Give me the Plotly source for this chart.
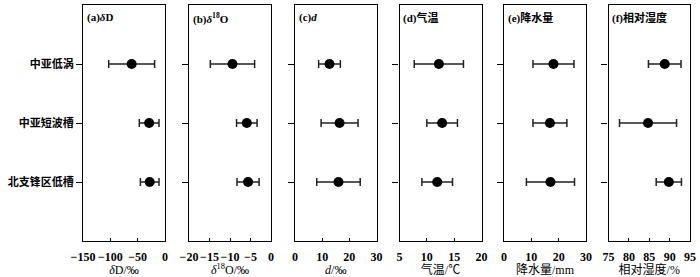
import plotly.graph_objects as go

categories = ["中亚低涡", "中亚短波槽", "北支锋区低槽"]

dD_mean = [-61, -29, -28]
dD_err = [42, 18, 17]
d18O_mean = [-9.4, -5.9, -5.6]
d18O_err = [5.4, 2.5, 2.7]
d_mean = [12.7, 16.4, 16.0]
d_err = [4.0, 6.8, 8.0]
temp_mean = [12.2, 12.8, 11.9]
temp_err = [4.5, 2.8, 2.8]
precip_mean = [18.1, 16.8, 17.0]
precip_err = [7.5, 6.2, 8.8]
rh_mean = [88.8, 84.7, 89.8]
rh_err = [4.0, 7.0, 3.1]

panel_titles = ["(a)<i>δ</i>D", "(b)<i>δ</i><sup>18</sup>O", "(c)<i>d</i>",
                "(d)气温", "(e)降水量", "(f)相对湿度"]
axis_titles = ["<i>δ</i>D/‰", "<i>δ</i><sup>18</sup>O/‰", "<i>d</i>/‰",
               "气温/℃", "降水量/mm", "相对湿度/%"]
x_ranges = [[-150, 0], [-20, 0], [0, 30], [5, 20], [0, 30], [75, 95]]
x_dticks = [50, 5, 10, 5, 10, 5]

means = [dD_mean, d18O_mean, d_mean, temp_mean, precip_mean, rh_mean]
errs = [dD_err, d18O_err, d_err, temp_err, precip_err, rh_err]

W, H = 700, 277
L, R, T, B = 83, 10, 4, 35
pw = W - L - R
panel_px = [(83, 165), (189, 271), (295, 376.5), (399.5, 481.5), (504, 586), (608.5, 690)]

FONT = "Liberation Serif, Noto Sans CJK SC, serif"

fig = go.Figure()
for i in range(6):
    xa = "x" if i == 0 else f"x{i+1}"
    ya = "y" if i == 0 else f"y{i+1}"
    fig.add_trace(go.Scatter(
        x=means[i], y=categories, xaxis=xa, yaxis=ya, mode="markers",
        marker=dict(color="black", size=10),
        error_x=dict(type="data", array=errs[i], visible=True,
                     color="#222", thickness=1.5, width=4),
        showlegend=False, cliponaxis=False))

layout = dict(
    width=W, height=H,
    margin=dict(l=L, r=R, t=T, b=B),
    plot_bgcolor="white", paper_bgcolor="white",
    font=dict(family=FONT, size=12, color="black"),
)
annotations = []
for i in range(6):
    sx = "" if i == 0 else str(i + 1)
    x0, x1 = panel_px[i]
    dom = [max(0, (x0 - L) / pw), min(1, (x1 - L) / pw)]
    layout[f"xaxis{sx}"] = dict(
        domain=dom, range=x_ranges[i], dtick=x_dticks[i], tick0=0,
        anchor=f"y{sx}", showgrid=False, zeroline=False,
        showline=True, linecolor="black", linewidth=1.3, mirror=True,
        ticks="inside", ticklen=3, tickcolor="black", tickwidth=1.2,
        tickangle=0, ticklabelstandoff=4,
        tickfont=dict(family=FONT, size=12, weight="bold"),
        title=dict(text=axis_titles[i], standoff=1,
                   font=dict(family=FONT, size=12)),
    )
    layout[f"yaxis{sx}"] = dict(
        domain=[0, 1], anchor=f"x{sx}", type="category",
        categoryorder="array", categoryarray=categories,
        range=[3, -1], showgrid=False, zeroline=False,
        showline=True, linecolor="black", linewidth=1.3, mirror=True,
        ticks="outside", ticklen=6, tickcolor="black", tickwidth=1.2,
        showticklabels=(i == 0),
        tickfont=dict(family=FONT, size=11, weight="bold"),
    )
    annotations.append(dict(
        text=panel_titles[i], xref=f"x{sx} domain", yref=f"y{sx} domain",
        x=0.02, y=0.985, xanchor="left", yanchor="top", showarrow=False,
        font=dict(family=FONT, size=11, weight="bold")))
layout["annotations"] = annotations
fig.update_layout(**layout)
fig.write_html("out.html", config={"displayModeBar": False},
               post_script="document.body.style.margin='0';document.body.style.padding='0';")
